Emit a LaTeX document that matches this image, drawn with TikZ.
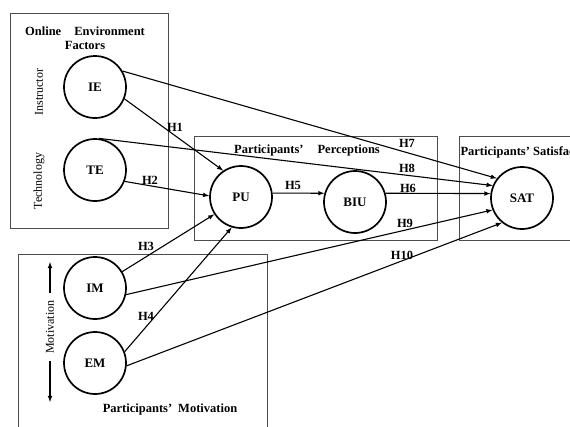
\documentclass[tikz,border=0pt]{standalone}
\usepackage{fontspec}
\setmainfont{Liberation Serif}
\usetikzlibrary{arrows,positioning}
\tikzset{
  basic/.style     = {font=\fontsize{12.5}{14}\selectfont\bfseries, inner sep=1pt},
  construct/.style = {basic, draw, circle, line width=1.7pt, minimum size=62pt,
                      inner sep=0pt, font=\fontsize{13}{15}\selectfont\bfseries},
  frame/.style     = {draw=black!70, line width=0.9pt},
  title/.style     = {basic, align=center},
  side/.style      = {basic, font=\fontsize{12}{14}\selectfont, rotate=90},
  hyp/.style       = {basic}
}

\begin{document}
\begin{tikzpicture}[x=1pt, y=-1pt, >=latex, line width=1.1pt]
\useasboundingbox (0,0) rectangle (570,426);
\clip (0,0) rectangle (570,426);

% the four groups of constructs
\draw[frame] (10,13) rectangle (168,228);
\draw[frame] (194,136) rectangle (437,240);
\draw[frame] (459,136) rectangle (600,240);
\draw[frame] (18,254) rectangle (267,440);

\node[title] (envtitle) at (85,38) {Online\hspace{13pt}Environment\\Factors};
\node[title] (pertitle) at (307,150) {Participants'\hspace{14pt}Perceptions};
\node[title, anchor=west] (sattitle) at (459,152) {Participants' Satisfaction};
\node[title] (mottitle) at (170,409) {Participants'\hspace{6pt}Motivation};

% the constructs
\node[construct] (ie) at (95,87) {IE};
\node[construct, below of = ie, node distance=83pt] (te) {TE};
\node[construct] (pu) at (241,197) {PU};
\node[construct, right of = pu, node distance=114pt, yshift=-5pt] (biu) {BIU};
\node[construct] (sat) at (522,198) {SAT};
\node[construct] (im) at (95,288) {IM};
\node[construct, below of = im, node distance=75pt] (em) {EM};

% side labels
\node[side] (instr) at (39,92) {Instructor};
\node[side] (techn) at (39,181) {Technology};
\node[side, inner sep=7pt] (motiv) at (50,327) {Motivation};
\coordinate (motup) at (50,262);
\coordinate (motdown) at (50,402);
\draw[->] (motiv.east) -- (motup);
\draw[->] (motiv.west) -- (motdown);

% hypothesised paths
\foreach \from/\to in {ie.-22/pu.124, te.-21/pu.178, im.31/pu.213, em.21/pu.253,
                       pu.7/biu.164, biu.16/sat.172, ie.30/sat.142, te.83/sat.157,
                       im.-12/sat.202, em.-5/sat.231}
  \draw[->] (\from) -- (\to);

% path labels
\foreach \n/\where in {1/{(175,127)}, 2/{(150,180)}, 3/{(146,246)}, 4/{(146,316)},
                       5/{(293,185)}, 6/{(408,188)}, 7/{(407,143)}, 8/{(407,168)},
                       9/{(405,223)}, 10/{(402,255)}}
  \node[hyp] (h\n) at \where {H\n};

\end{tikzpicture}
\end{document}
